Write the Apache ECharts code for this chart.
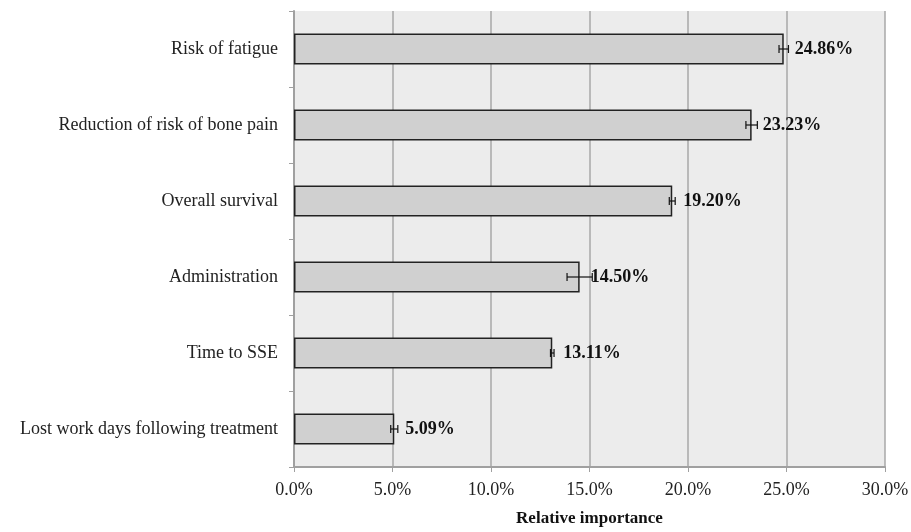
<!DOCTYPE html>
<html>
<head>
<meta charset="utf-8">
<script src="https://cdn.jsdelivr.net/npm/echarts@6/dist/echarts.min.js"></script>
<style>
  html, body { margin: 0; padding: 0; background: #fff; }
  #chart1 { width: 911px; height: 532px; }
</style>
</head>
<body>
<div id="chart1"></div>
<script>
const categories = ['Risk of fatigue', 'Reduction of risk of bone pain', 'Overall survival',
  'Administration', 'Time to SSE', 'Lost work days following treatment'];
const importance = [24.86, 23.23, 19.20, 14.50, 13.11, 5.09];
const errLow = [24.62, 22.94, 19.05, 13.86, 13.02, 4.91];
const errHigh = [25.10, 23.52, 19.35, 15.14, 13.20, 5.27];

const font = '"Liberation Serif", "Times New Roman", serif';

const echart1 = echarts.init(document.getElementById('chart1'));

const errData = categories.map((c, i) => [i, errLow[i], errHigh[i]]);

option = {
  animation: false,
  backgroundColor: '#fff',
  grid: {
    left: 294, right: 26, top: 11, bottom: 65,
    outerBoundsMode: 'none',
    show: true, backgroundColor: '#ececec', borderWidth: 0
  },
  xAxis: {
    type: 'value',
    min: 0, max: 30, interval: 5,
    name: 'Relative importance',
    nameLocation: 'middle',
    nameGap: 43,
    nameTextStyle: { fontFamily: font, fontSize: 17, fontWeight: 'bold', color: '#111' },
    axisLine: { show: true, lineStyle: { color: '#a0a0a0', width: 2 } },
    axisTick: { show: true, length: 5, lineStyle: { color: '#a0a0a0' } },
    axisLabel: { formatter: v => v.toFixed(1) + '%', fontFamily: font, fontSize: 18, color: '#222', margin: 14 },
    splitLine: { show: true, lineStyle: { color: '#a8a8a8', width: 1.5 } }
  },
  yAxis: {
    type: 'category',
    inverse: true,
    data: categories,
    axisLine: { show: true, lineStyle: { color: '#a0a0a0', width: 2 } },
    axisTick: { show: true, length: 5, lineStyle: { color: '#a0a0a0' } },
    axisLabel: { fontFamily: font, fontSize: 18, color: '#222', margin: 16 },
    splitLine: { show: false }
  },
  series: [
    {
      type: 'bar',
      data: importance,
      barWidth: 31,
      itemStyle: { color: '#d0d0d0', borderColor: '#222', borderWidth: 1.5 },
      label: {
        show: true,
        position: 'right',
        distance: 11,
        formatter: p => p.value.toFixed(2) + '%',
        fontFamily: font, fontSize: 18, fontWeight: 'bold', color: '#111'
      }
    },
    {
      type: 'custom',
      data: errData,
      z: 5,
      renderItem: function (params, api) {
        const cat = api.value(0);
        const lo = api.coord([api.value(1), cat]);
        const hi = api.coord([api.value(2), cat]);
        const h = 4;
        const style = { stroke: '#111', lineWidth: 1.2 };
        return {
          type: 'group',
          children: [
            { type: 'line', shape: { x1: lo[0], y1: lo[1], x2: hi[0], y2: hi[1] }, style: style },
            { type: 'line', shape: { x1: lo[0], y1: lo[1] - h, x2: lo[0], y2: lo[1] + h }, style: style },
            { type: 'line', shape: { x1: hi[0], y1: hi[1] - h, x2: hi[0], y2: hi[1] + h }, style: style }
          ]
        };
      }
    }
  ]
};

echart1.setOption(option);
</script>
</body>
</html>
